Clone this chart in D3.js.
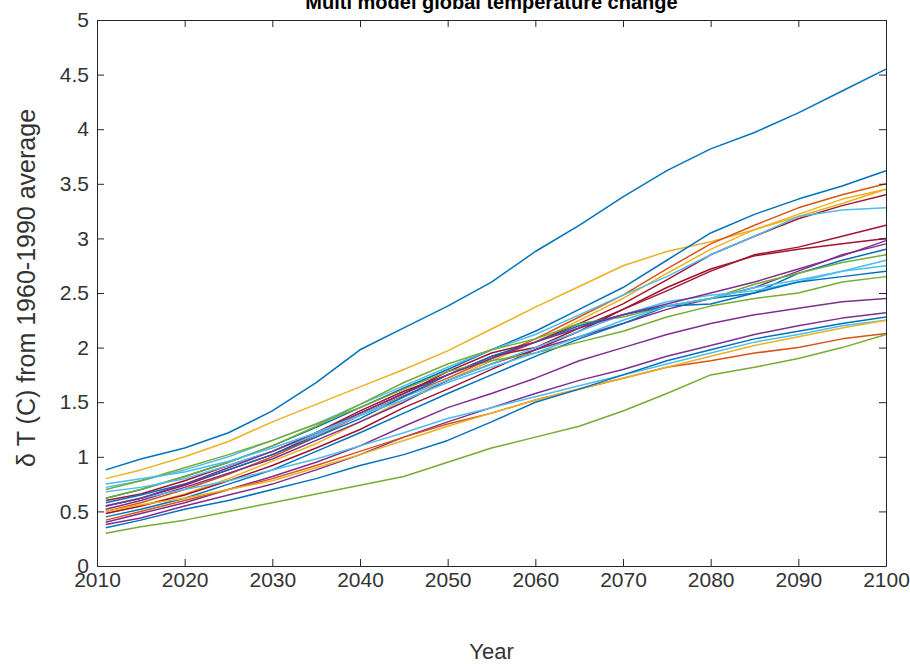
<!DOCTYPE html>
<html>
<head>
<meta charset="utf-8">
<script src="https://cdn.jsdelivr.net/npm/d3@7"></script>
<style>
  body { margin: 0; background: #fff; }
  svg { font-family: "Liberation Sans", Arial, sans-serif; }
  .axis text { fill: #333; }
  .axis path, .axis line { stroke: #262626; }
</style>
</head>
<body>
<div id="chart"></div>
<script>
// sample years for every model run
var years = [2011, 2015, 2020, 2025, 2030, 2035, 2040, 2045, 2050, 2055, 2060, 2065, 2070, 2075, 2080, 2085, 2090, 2095, 2100];

var xTicks = [2010, 2020, 2030, 2040, 2050, 2060, 2070, 2080, 2090, 2100];
var yTicks = [0, 0.5, 1, 1.5, 2, 2.5, 3, 3.5, 4, 4.5, 5];

var modelColors = ["#0072BD", "#EDB120", "#0072BD", "#D95319", "#EDB120", "#A2142F", "#4DBEEE", "#A2142F",
                   "#A2142F", "#7E2F8E", "#0072BD", "#77AC30", "#4DBEEE", "#0072BD", "#77AC30", "#7E2F8E",
                   "#7E2F8E", "#4DBEEE", "#D95319", "#EDB120", "#77AC30", "#0072BD", "#7E2F8E", "#4DBEEE"];

// temperature change (C) per model, one value per entry in years
var modelRuns = [
    [.88, .98, 1.08, 1.22, 1.42, 1.68, 1.98, 2.18, 2.38, 2.60, 2.88, 3.12, 3.38, 3.62, 3.82, 3.97, 4.15, 4.35, 4.55],
    [.80, .88, 1.00, 1.14, 1.32, 1.48, 1.64, 1.80, 1.97, 2.17, 2.37, 2.56, 2.75, 2.88, 2.97, 3.08, 3.20, 3.32, 3.45],
    [.62, .70, .82, .95, 1.10, 1.27, 1.45, 1.63, 1.80, 1.98, 2.15, 2.35, 2.55, 2.80, 3.05, 3.22, 3.36, 3.48, 3.62],
    [.50, .58, .70, .84, 1.00, 1.18, 1.38, 1.56, 1.72, 1.90, 2.08, 2.28, 2.48, 2.72, 2.95, 3.12, 3.28, 3.40, 3.50],
    [.48, .55, .66, .80, .96, 1.12, 1.32, 1.52, 1.70, 1.88, 2.05, 2.25, 2.45, 2.68, 2.90, 3.08, 3.22, 3.36, 3.45],
    [.55, .62, .74, .88, 1.02, 1.20, 1.40, 1.58, 1.78, 1.95, 2.05, 2.22, 2.40, 2.62, 2.85, 3.02, 3.18, 3.30, 3.40],
    [.72, .78, .88, 1.00, 1.15, 1.30, 1.48, 1.65, 1.82, 1.98, 2.12, 2.30, 2.48, 2.65, 2.85, 3.02, 3.20, 3.26, 3.28],
    [.48, .55, .65, .78, .92, 1.08, 1.25, 1.45, 1.62, 1.80, 1.98, 2.15, 2.35, 2.52, 2.70, 2.85, 2.92, 3.02, 3.12],
    [.60, .66, .78, .92, 1.05, 1.22, 1.42, 1.60, 1.75, 1.92, 2.00, 2.18, 2.35, 2.55, 2.72, 2.84, 2.90, 2.95, 3.00],
    [.52, .60, .72, .85, .98, 1.15, 1.32, 1.50, 1.70, 1.85, 1.98, 2.10, 2.22, 2.35, 2.45, 2.55, 2.70, 2.85, 2.95],
    [.45, .52, .62, .75, .88, 1.05, 1.22, 1.40, 1.58, 1.75, 1.92, 2.08, 2.22, 2.38, 2.45, 2.50, 2.68, 2.80, 2.90],
    [.62, .70, .82, .95, 1.10, 1.28, 1.48, 1.68, 1.85, 1.98, 2.08, 2.22, 2.28, 2.38, 2.45, 2.58, 2.68, 2.78, 2.85],
    [.68, .72, .80, .92, 1.05, 1.20, 1.38, 1.55, 1.70, 1.85, 2.00, 2.15, 2.30, 2.42, 2.48, 2.52, 2.60, 2.70, 2.75],
    [.58, .65, .75, .88, 1.02, 1.18, 1.35, 1.55, 1.75, 1.92, 2.05, 2.20, 2.30, 2.38, 2.40, 2.50, 2.60, 2.65, 2.70],
    [.70, .78, .90, 1.02, 1.15, 1.30, 1.45, 1.62, 1.78, 1.88, 1.95, 2.05, 2.15, 2.28, 2.38, 2.45, 2.50, 2.60, 2.65],
    [.40, .48, .58, .70, .82, .95, 1.10, 1.28, 1.45, 1.58, 1.72, 1.88, 2.00, 2.12, 2.22, 2.30, 2.36, 2.42, 2.45],
    [.38, .44, .55, .65, .75, .88, 1.02, 1.18, 1.32, 1.45, 1.58, 1.70, 1.80, 1.92, 2.02, 2.12, 2.20, 2.27, 2.32],
    [.55, .62, .70, .78, .88, .98, 1.10, 1.22, 1.35, 1.45, 1.55, 1.65, 1.75, 1.85, 1.95, 2.05, 2.12, 2.20, 2.25],
    [.42, .50, .60, .70, .80, .92, 1.05, 1.18, 1.30, 1.40, 1.52, 1.62, 1.72, 1.82, 1.88, 1.95, 2.00, 2.08, 2.13],
    [.50, .56, .62, .70, .78, .90, 1.02, 1.15, 1.28, 1.40, 1.52, 1.62, 1.72, 1.82, 1.92, 2.02, 2.10, 2.18, 2.25],
    [.30, .36, .42, .50, .58, .66, .74, .82, .95, 1.08, 1.18, 1.28, 1.42, 1.58, 1.75, 1.82, 1.90, 2.00, 2.12],
    [.35, .42, .52, .60, .70, .80, .92, 1.02, 1.15, 1.32, 1.50, 1.62, 1.75, 1.88, 1.98, 2.08, 2.15, 2.22, 2.28],
    [.55, .62, .75, .90, 1.05, 1.22, 1.40, 1.58, 1.75, 1.90, 2.05, 2.18, 2.30, 2.40, 2.50, 2.60, 2.72, 2.84, 2.98],
    [.75, .80, .86, .96, 1.08, 1.22, 1.38, 1.52, 1.68, 1.82, 1.95, 2.10, 2.25, 2.38, 2.45, 2.55, 2.62, 2.70, 2.80]
];

var svg = d3.select("#chart").append("svg")
    .attr("width", 910)
    .attr("height", 664),
    margin = {top: 20, right: 24, bottom: 98, left: 97},
    width = 910 - margin.left - margin.right,
    height = 664 - margin.top - margin.bottom;

var x = d3.scaleLinear().domain([2010, 2100]).range([0, width]);
var y = d3.scaleLinear().domain([0, 5]).range([height, 0]);

var g = svg.append("g")
    .attr("transform", "translate(" + margin.left + "," + margin.top + ")");

var line = d3.line()
    .x(function (d, i) { return x(years[i]); })
    .y(function (d) { return y(d); });

g.append("g")
    .attr("class", "runs")
    .selectAll("path")
    .data(modelRuns)
    .enter().append("path")
    .attr("d", line)
    .attr("fill", "none")
    .attr("stroke", function (d, i) { return modelColors[i]; })
    .attr("stroke-width", 1.5)
    .attr("stroke-linejoin", "round");

// box with inward ticks on all four sides
g.append("g")
    .attr("class", "axis")
    .attr("transform", "translate(0," + height + ")")
    .call(d3.axisBottom(x).tickValues(xTicks).tickFormat(d3.format("d")).tickSizeInner(-7).tickSizeOuter(0).tickPadding(6));

g.append("g")
    .attr("class", "axis")
    .call(d3.axisTop(x).tickValues(xTicks).tickFormat("").tickSizeInner(-7).tickSizeOuter(0));

g.append("g")
    .attr("class", "axis")
    .call(d3.axisLeft(y).tickValues(yTicks).tickFormat(d3.format("~g")).tickSizeInner(-7).tickSizeOuter(0).tickPadding(8));

g.append("g")
    .attr("class", "axis")
    .attr("transform", "translate(" + width + ",0)")
    .call(d3.axisRight(y).tickValues(yTicks).tickFormat("").tickSizeInner(-7).tickSizeOuter(0));

svg.selectAll(".axis text")
    .style("font-size", "21px")
    .style("font-family", "'Liberation Sans', Arial, sans-serif");

svg.append("text")
    .attr("x", margin.left + width / 2)
    .attr("y", 9)
    .attr("text-anchor", "middle")
    .style("font-weight", "bold")
    .style("font-size", "20px")
    .style("fill", "#000")
    .text("Multi model global temperature change");

svg.append("text")
    .attr("x", margin.left + width / 2)
    .attr("y", 659)
    .attr("text-anchor", "middle")
    .style("font-size", "22px")
    .style("fill", "#333")
    .text("Year");

svg.append("text")
    .attr("transform", "translate(35,288) rotate(-90)")
    .attr("text-anchor", "middle")
    .style("font-size", "25px")
    .style("fill", "#333")
    .text("δ T (C) from 1960-1990 average");
</script>
</body>
</html>
